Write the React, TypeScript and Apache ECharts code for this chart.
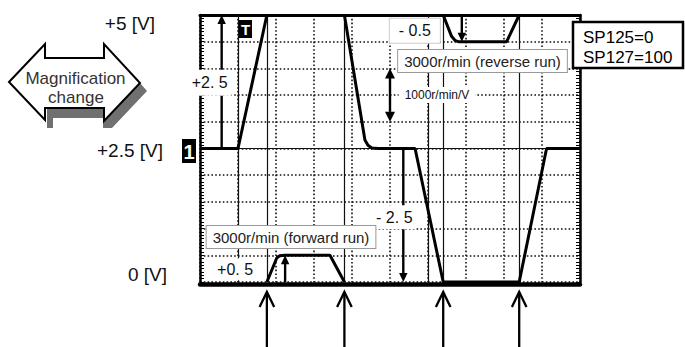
import React, { useEffect, useRef } from 'react';
import * as echarts from 'echarts';

// x: screen divisions (0–10), y: volts (0–5)
const ch1Rise: [number, number][] = [[0, 2.5], [1.0, 2.5], [1.76, 5.0]];
const ch1Fall: [number, number][] = [
  [3.8, 5.0], [4.34, 2.66], [4.42, 2.56], [4.52, 2.51], [4.7, 2.5],
  [5.66, 2.5], [6.4, 0], [8.4, 0], [9.12, 2.5], [10, 2.5],
];
const forwardRun: [number, number][] = [[1.76, 0], [2.02, 0.45], [2.1, 0.49], [2.24, 0.5], [3.42, 0.5], [3.8, 0]];
const reverseRun: [number, number][] = [[6.4, 5.0], [6.62, 4.6], [6.72, 4.52], [6.8, 4.5], [8.07, 4.5], [8.4, 5.0]];

const cursorTimes = [1.0, 1.76, 3.8, 6.0, 6.4, 8.4];
const edgeTimes = [1.76, 3.8, 6.4, 8.4];
const centerLevel = 2.5;

const measureX = [0.57, 5.0, 6.89, 5.35, 2.24];
const measureFrom = [2.5, 3.0, 5.0, 2.5, 0];
const measureTo = [5.0, 4.0, 4.5, 0, 0.5];
const measureText = ['+2. 5', '1000r/min/V', '- 0.5', '- 2. 5', '+0. 5'];
const measureDouble = [false, true, false, false, false];

const yTickValues = [0, 2.5, 5];
const yTickLabels = ['0 [V]', '+2.5 [V]', '+5 [V]'];
const runTexts = ['3000r/min (reverse run)', '3000r/min (forward run)'];
const paramLines = ['SP125=0', 'SP127=100'];
const magnifyText = ['Magnification', 'change'];
const channelMark = '1';
const triggerMark = 'T';

const FONT = '"Liberation Sans", Arial, Helvetica, sans-serif';

// label layout (pixels relative to arrow midpoint)
const labelLayout = [
  { dx: -12, dy: 1, size: 16, pad: [5, 4], border: '' },
  { dx: 47, dy: 0, size: 12, pad: [2, 6], border: '' },
  { dx: -47, dy: 2.5, size: 16, pad: [4, 9], border: '#cccccc' },
  { dx: -9, dy: 2, size: 16, pad: [4, 3], border: '' },
  { dx: -50, dy: 0.5, size: 16, pad: [3, 8], border: '' },
];

export default function App() {
  const ref = useRef<HTMLDivElement>(null);
  useEffect(() => {
    if (!ref.current) return;
    const chart = echarts.init(ref.current, undefined, { renderer: 'svg' });
    const dotted = { color: '#111', width: 1.6, type: [1.6, 2.2] as any };
    const traceStyle = { color: '#000', width: 3 };
    const traceSeries = (data: [number, number][]) => ({
      type: 'line', data, showSymbol: false, symbol: 'none', z: 5,
      lineStyle: traceStyle, silent: true,
    });

    const arrowShadow = [[47, 108], [104, 108], [104, 121], [140, 83], [147, 91], [112, 128], [103, 128], [103, 118], [53, 118], [53, 128], [47, 128]];
    const arrowPts = [[9, 82], [45, 44], [45, 58], [104, 58], [104, 44], [140, 83], [104, 121], [104, 108], [45, 108], [45, 120]];

    const vAxisCommon = {
      type: 'value', min: 0, max: 5, interval: 0.5,
      axisLine: { show: true, onZero: false, lineStyle: { color: '#000', width: 2.5 } },
      axisTick: { show: true, inside: true, length: 4, lineStyle: { color: '#000', width: 1 } },
      minorTick: { show: true, splitNumber: 8, length: 4, lineStyle: { color: '#000', width: 1 } },
    };

    const option: any = {
      animation: false,
      backgroundColor: '#fff',
      grid: { left: 200, top: 15, width: 380, height: 267, containLabel: false },
      xAxis: [
        {
          type: 'value', min: 0, max: 10, interval: 1, position: 'bottom', offset: 2,
          axisLine: { show: true, onZero: false, lineStyle: { color: '#000', width: 4.5 } },
          axisTick: { show: false }, axisLabel: { show: false },
          splitLine: { show: true, lineStyle: dotted },
        },
        {
          type: 'value', min: 0, max: 10, interval: 1, position: 'top',
          axisLine: { show: true, onZero: false, lineStyle: { color: '#000', width: 3 } },
          axisTick: { show: false }, axisLabel: { show: false }, splitLine: { show: false },
        },
      ],
      yAxis: [
        {
          ...vAxisCommon, position: 'left',
          splitLine: { show: true, lineStyle: dotted },
          axisLabel: {
            show: true, margin: 33, color: '#111', fontSize: 19, fontFamily: FONT,
            formatter: (v: number) => {
              const k = yTickValues.findIndex((t) => Math.abs(t - v) < 1e-6);
              return k < 0 ? '' : `{t${k}|${yTickLabels[k]}}`;
            },
            rich: {
              t0: { fontSize: 19, fontFamily: FONT, color: '#111', padding: [0, 0, 15, 0] },
              t1: { fontSize: 19, fontFamily: FONT, color: '#111', padding: [3, 4, 0, 0] },
              t2: { fontSize: 19, fontFamily: FONT, color: '#111', padding: [16, 12, 0, 0] },
            },
          },
        },
        {
          ...vAxisCommon, position: 'right',
          splitLine: { show: false }, axisLabel: { show: false },
        },
      ],
      series: [
        {
          type: 'line', data: [[0, centerLevel]], showSymbol: false, symbol: 'none', z: 2,
          lineStyle: { opacity: 0 }, silent: true,
          markLine: {
            silent: true, symbol: ['none', 'none'], animation: false,
            label: { show: false },
            lineStyle: { type: 'solid', color: '#111', width: 1.2 },
            data: [
              ...cursorTimes.map((t) => ({ xAxis: t })),
              { yAxis: centerLevel },
            ],
          },
        },
        traceSeries(ch1Rise),
        traceSeries(ch1Fall),
        traceSeries(forwardRun),
        traceSeries(reverseRun),
        {
          type: 'custom', z: 8, clip: false, silent: true,
          encode: { x: 0, y: [1, 2] },
          data: measureX.map((x, i) => [x, measureFrom[i], measureTo[i]]),
          renderItem: (params: any, api: any) => {
            const i = params.dataIndex;
            const x = api.value(0);
            const p0 = api.coord([x, api.value(1)]);
            const p1 = api.coord([x, api.value(2)]);
            const dir = Math.sign(p1[1] - p0[1]);
            const dbl = measureDouble[i];
            const hl = dbl ? 10 : 9;
            const hw = dbl ? 5 : 4.2;
            const children: any[] = [];
            const s0 = dbl ? p0[1] + dir * hl : p0[1];
            const s1 = p1[1] - dir * (hl - 1);
            children.push({ type: 'line', shape: { x1: p0[0], y1: s0, x2: p1[0], y2: s1 }, style: { stroke: '#000', lineWidth: 2.4 } });
            children.push({ type: 'polygon', shape: { points: [[p1[0], p1[1]], [p1[0] - hw, p1[1] - dir * hl], [p1[0] + hw, p1[1] - dir * hl]] }, style: { fill: '#000' } });
            if (dbl) {
              children.push({ type: 'polygon', shape: { points: [[p0[0], p0[1]], [p0[0] - hw, p0[1] + dir * hl], [p0[0] + hw, p0[1] + dir * hl]] }, style: { fill: '#000' } });
            }
            const L = labelLayout[i];
            const style: any = {
              text: measureText[i], x: p0[0] + L.dx, y: (p0[1] + p1[1]) / 2 + L.dy,
              align: 'center', verticalAlign: 'middle', fill: '#111',
              font: `${L.size}px ${FONT}`, backgroundColor: '#fff', padding: L.pad,
            };
            if (L.border) { style.borderColor = L.border; style.borderWidth = 1; }
            children.push({ type: 'text', z2: 10, style });
            return { type: 'group', children };
          },
        },
        {
          type: 'custom', z: 8, clip: false, silent: true,
          encode: { x: 0, y: 1 },
          data: edgeTimes.map((t) => [t, 0]),
          renderItem: (params: any, api: any) => {
            const p = api.coord([api.value(0), api.value(1)]);
            const tip = p[1] + 10;
            return {
              type: 'group',
              children: [
                { type: 'line', shape: { x1: p[0], y1: tip + 1, x2: p[0], y2: 360 }, style: { stroke: '#000', lineWidth: 2.3 } },
                { type: 'polyline', shape: { points: [[p[0] - 7.3, tip + 15], [p[0], tip], [p[0] + 7.3, tip + 15]] }, style: { stroke: '#000', lineWidth: 2.3, fill: 'none' } },
              ],
            };
          },
        },
      ],
      graphic: [
        { type: 'polygon', z: 50, shape: { points: arrowShadow }, style: { fill: '#707070' } },
        { type: 'polygon', z: 51, shape: { points: arrowPts }, style: { fill: '#fff', stroke: '#000', lineWidth: 2 } },
        { type: 'text', z: 52, style: { text: magnifyText[0], x: 75.5, y: 78, align: 'center', verticalAlign: 'middle', font: `17px ${FONT}`, fill: '#333' } },
        { type: 'text', z: 52, style: { text: magnifyText[1], x: 76, y: 97, align: 'center', verticalAlign: 'middle', font: `17px ${FONT}`, fill: '#333' } },
        { type: 'rect', z: 50, shape: { x: 573, y: 22, width: 110, height: 46 }, style: { fill: '#fff', stroke: '#000', lineWidth: 2.5 } },
        { type: 'text', z: 52, style: { text: paramLines[0], x: 583, y: 37, align: 'left', verticalAlign: 'middle', font: `17px ${FONT}`, fill: '#000' } },
        { type: 'text', z: 52, style: { text: paramLines[1], x: 583, y: 57, align: 'left', verticalAlign: 'middle', font: `17px ${FONT}`, fill: '#000' } },
        { type: 'rect', z: 50, shape: { x: 239, y: 20, width: 13, height: 18 }, style: { fill: '#000' } },
        { type: 'text', z: 52, style: { text: triggerMark, x: 245.5, y: 29.5, align: 'center', verticalAlign: 'middle', font: `bold 15px ${FONT}`, fill: '#fff' } },
        { type: 'rect', z: 50, shape: { x: 182, y: 139, width: 14, height: 24 }, style: { fill: '#000' } },
        { type: 'text', z: 52, style: { text: channelMark, x: 189, y: 151.5, align: 'center', verticalAlign: 'middle', font: `bold 20px ${FONT}`, fill: '#fff' } },
        { type: 'text', z: 60, style: { text: runTexts[0], x: 482.5, y: 61, align: 'center', verticalAlign: 'middle', font: `15px ${FONT}`, fill: '#222', backgroundColor: '#fff', borderColor: '#999', borderWidth: 1, padding: [3, 6], lineHeight: 16 } },
        { type: 'text', z: 60, style: { text: runTexts[1], x: 291, y: 237, align: 'center', verticalAlign: 'middle', font: `15px ${FONT}`, fill: '#222', backgroundColor: '#fff', borderColor: '#999', borderWidth: 1, padding: [3, 6], lineHeight: 16 } },
      ],
    };
    chart.setOption(option);
    return () => chart.dispose();
  }, []);
  return <div ref={ref} style={{ position: 'fixed', left: 0, top: 0, width: 685, height: 347 }} />;
}
